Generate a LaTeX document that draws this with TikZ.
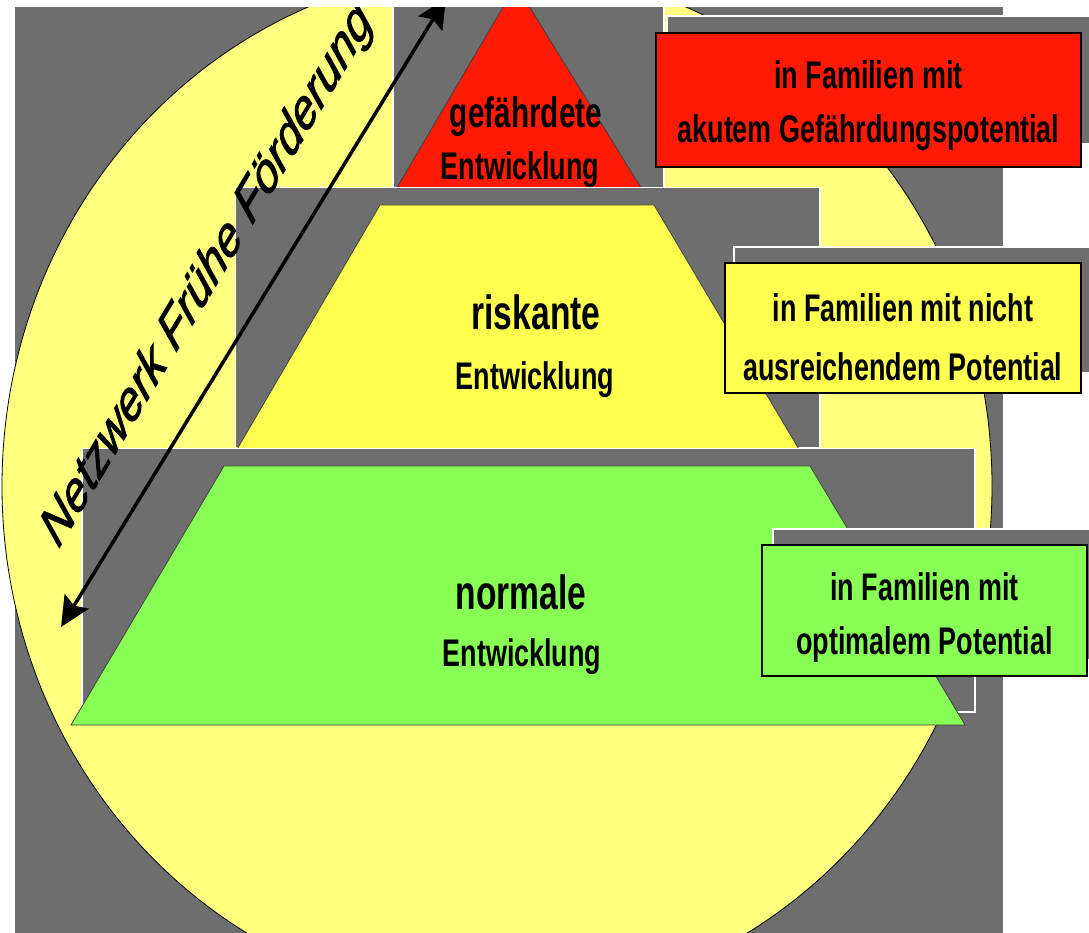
\documentclass[tikz,border=0pt]{standalone}
\usepackage{graphicx}
\usepackage{fontspec}
\setmainfont{Liberation Sans}[FakeStretch=0.70]
\newfontfamily\netzfont{Liberation Sans}[FakeBold=2]
\usetikzlibrary{arrows.meta}
\definecolor{bggray}{RGB}{110,110,110}
\definecolor{paleyellow}{RGB}{255,255,128}
\definecolor{riskyellow}{RGB}{255,255,80}
\definecolor{dangerred}{RGB}{255,26,6}
\definecolor{normalgreen}{RGB}{136,255,85}

\begin{document}
\begin{tikzpicture}[x=1pt, y=1pt,
    layerbg/.style={fill=bggray, draw=white, line width=1.2pt},
    layer/.style={draw=black!75, line width=0.8pt},
    labelbox/.style={draw=black, line width=1.8pt, inner sep=0pt, align=center,
      font=\fontsize{38.5}{54}\selectfont\bfseries},
    layertext/.style={anchor=base, inner sep=0pt, font=\fontsize{38.5}{40}\selectfont\bfseries},
    bigtext/.style={layertext, font=\fontsize{48}{50}\selectfont\bfseries},
    netzarrow/.style={line width=3.5pt, <->, >={Stealth[length=30pt, width=28pt, inset=5pt]}}]
    \useasboundingbox (0,0) rectangle (1089,933);
    \clip (0,0) rectangle (1089,925);

    \fill [bggray] (14.6,-5) rectangle (1003,940);
    \draw [fill=paleyellow, line width=0.8pt] (497,447) ellipse [x radius=495, y radius=518];

    \draw [layerbg] (393,745) rectangle (664,960);
    \draw [layer, fill=dangerred] (395,742) -- (516,948) -- (643,742) -- cycle;

    \draw [layerbg] (235.5,485) rectangle (820,745.5);
    \draw [layer, fill=riskyellow] (236,482) -- (380,728) -- (654,728) -- (800,482) -- cycle;

    \draw [layerbg] (82,221) rectangle (975,484.5);
    \draw [layer, fill=normalgreen] (71,208) -- (224,467) -- (810,467) -- (965,208) -- cycle;

    \coordinate (netzlow) at (61,306);
    \coordinate (netzhigh) at (446,935);
    \draw [netzarrow] (netzlow) -- (netzhigh);

    \node (netz) at (208,657)
      {\scalebox{0.7}[1]{\rotatebox{49.5}{\netzfont\itshape\fontsize{58}{60}\selectfont Netzwerk Frühe Förderung}}};

    \draw [layerbg] (667,789) rectangle (1100,917);
    \node (famred) [labelbox, fill=dangerred, minimum width=425, minimum height=134] at (868.5,833)
      {\rule{0pt}{40pt}in Familien mit\\akutem Gefährdungspotential};

    \draw [layerbg] (734,560) rectangle (1100,686);
    \node (famyellow) [labelbox, fill=riskyellow, minimum width=356, minimum height=130] at (903,605)
      {\rule{0pt}{47pt}in Familien mit nicht\\[5pt]ausreichendem Potential};

    \draw [layerbg] (773,273) rectangle (1100,404);
    \node (famgreen) [labelbox, fill=normalgreen, minimum width=325, minimum height=131] at (924.5,322.5)
      {\rule{0pt}{43pt}in Familien mit\\optimalem Potential};

    \node (gef) [layertext, font=\fontsize{42.5}{45}\selectfont\bfseries] at (526,805) {gefährdete};
    \node (entred) [layertext] at (520,753) {Entwicklung};
    \node (risk) [bigtext] at (536,603) {riskante};
    \node (entyellow) [layertext] at (535,543) {Entwicklung};
    \node (norm) [bigtext] at (521,323) {normale};
    \node (entgreen) [layertext] at (522,266) {Entwicklung};
\end{tikzpicture}
\end{document}
